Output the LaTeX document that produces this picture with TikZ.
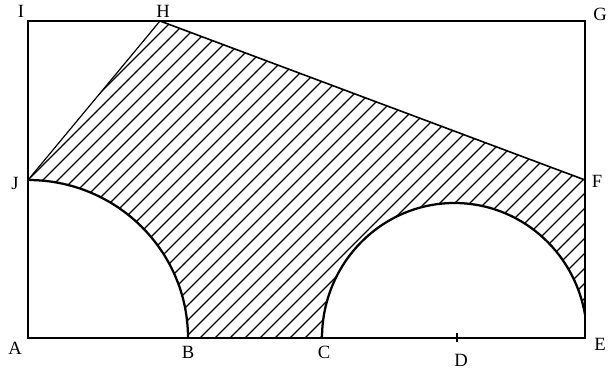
\documentclass[tikz,border=0pt]{standalone}
\usepackage{fontspec}
\setmainfont{Liberation Serif}
\begin{document}
\begin{tikzpicture}[x=0.75pt,y=0.75pt,
  frame/.style={line width=1.5pt},
  arcline/.style={line width=1.7pt},
  hatchline/.style={line width=0.85pt},
  lbl/.style={font=\fontsize{14}{16}\selectfont, inner sep=0pt}]
\useasboundingbox (0,0) rectangle (609,371);
\coordinate (A) at (28,33);
\coordinate (B) at (188,33);
\coordinate (C) at (322,33);
\coordinate (D) at (457,33);
\coordinate (E) at (585,33);
\coordinate (F) at (585,191);
\coordinate (G) at (585,350);
\coordinate (H) at (160,350);
\coordinate (I) at (28,350);
\coordinate (J) at (28,191);
\coordinate (Ep) at (585,56.4);
\coordinate (Dlo) at (457,29);
\coordinate (Dhi) at (457,38);
% hatched region
\begin{scope}
\clip (B) arc[start angle=0,end angle=90,x radius=160,y radius=158] -- (H) -- (F) -- (Ep)
  arc[start angle=10,end angle=180,x radius=132.5,y radius=135] -- cycle;
\foreach \k in {-34,...,27} \draw[hatchline] ({167+15*\k},0) -- ++(371,371);
\end{scope}
% frame
\draw[frame] (A) -- (E) -- (G) -- (I) -- cycle;
% arcs
\draw[arcline] (B) arc[start angle=0,end angle=90,x radius=160,y radius=158];
\draw[arcline] (C) arc[start angle=180,end angle=10,x radius=132.5,y radius=135];
% slanted edges
\draw[line width=0.9pt] (J) -- (H);
\draw[line width=1.2pt] (H) -- (F);
% tick at D
\draw[line width=1pt] (Dlo) -- (Dhi);
% labels
\node[lbl] (lI) at (21,360) {I};
\node[lbl] (lH) at (163,360) {H};
\node[lbl] (lG) at (600,357) {G};
\node[lbl] (lJ) at (15,188) {J};
\node[lbl] (lF) at (597,190) {F};
\node[lbl] (lA) at (15,23) {A};
\node[lbl] (lB) at (188,19) {B};
\node[lbl] (lC) at (324,19) {C};
\node[lbl] (lD) at (461,11) {D};
\node[lbl] (lE) at (600,27) {E};
\end{tikzpicture}
\end{document}
